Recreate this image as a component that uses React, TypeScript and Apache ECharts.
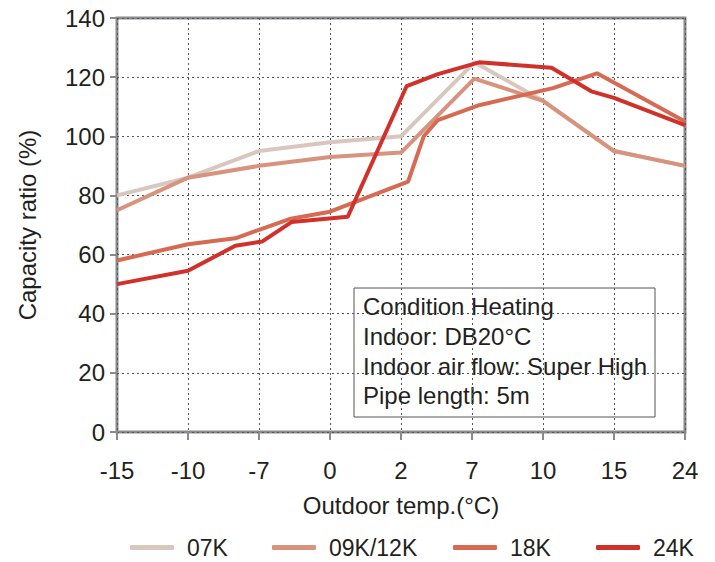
import React, { useEffect, useRef } from "react";
import * as echarts from "echarts";

// X axis: evenly spaced temperature ticks (non-linear scale)
const xTicks = [-15, -10, -7, 0, 2, 7, 10, 15, 24];
const xTickLabels = ["-15", "-10", "-7", "0", "2", "7", "10", "15", "24"];

// Series (outdoor temperature in °C, capacity ratio in %)
const temps07K = [-15, -10, -7, 0, 2, 7.1, 10, 15, 24];
const ratio07K = [80, 86, 95, 98, 100, 125, 112, 95, 90];

const temps09K = [-15, -10, -7, 0, 2, 7.1, 10, 15, 24];
const ratio09K = [75, 86, 90, 93, 94.5, 119.5, 112, 95, 90];

const temps18K = [-15, -10, -8, -4, 0, 2.5, 3.6, 4.6, 7.3, 10.7, 13.8, 24];
const ratio18K = [58, 63.5, 65.5, 72, 74.5, 84.7, 100, 105.5, 110.5, 116.3, 121.3, 105];

const temps24K = [-15, -10, -8, -6.7, -3.8, 0.5, 2.4, 4.6, 7.3, 10.6, 13.4, 15, 24];
const ratio24K = [50, 54.5, 63, 64.4, 71, 72.8, 117, 121, 125, 123.2, 115.2, 113, 103.8];

const seriesNames = ["07K", "09K/12K", "18K", "24K"];
const seriesColors = ["#d9c6be", "#d7937d", "#d76a53", "#d0322b"];

const noteLines = [
  "Condition Heating",
  "Indoor: DB20°C",
  "Indoor air flow: Super High",
  "Pipe length: 5m",
];

const FONT = "'Liberation Sans', Arial, Helvetica, sans-serif";
const TEXT = "#231f20";
const AXIS = "#8a8a8e";

// map a temperature to its position on the evenly spaced tick scale
function toPos(t: number): number {
  for (let i = 0; i < xTicks.length - 1; i++) {
    if (t <= xTicks[i + 1]) {
      return i + (t - xTicks[i]) / (xTicks[i + 1] - xTicks[i]);
    }
  }
  return xTicks.length - 1;
}

export default function App() {
  const ref = useRef<HTMLDivElement>(null);
  useEffect(() => {
    document.body.style.margin = "0";
    if (!ref.current) return;
    const chart = echarts.init(ref.current, undefined, { renderer: "svg" });
    const temps = [temps07K, temps09K, temps18K, temps24K];
    const ratios = [ratio07K, ratio09K, ratio18K, ratio24K];
    const legendLeft = [130, 272, 453, 596];

    chart.setOption({
      animation: false,
      backgroundColor: "#fff",
      textStyle: { fontFamily: FONT },
      grid: {
        left: 117,
        right: 30,
        top: 18,
        bottom: 130,
        show: true,
        borderColor: AXIS,
        borderWidth: 3,
        backgroundColor: "transparent",
      },
      legend: seriesNames.map((n, i) => ({
        data: [n],
        left: legendLeft[i],
        top: 536,
        padding: 0,
        icon: "roundRect",
        itemWidth: 44,
        itemHeight: 5,
        textStyle: {
          fontSize: 23,
          color: TEXT,
          fontFamily: FONT,
          padding: [0, 0, 0, 8],
          lineHeight: 23,
        },
      })),
      xAxis: {
        type: "value",
        min: 0,
        max: xTicks.length - 1,
        interval: 1,
        name: "Outdoor temp.(°C)",
        nameLocation: "middle",
        nameGap: 61,
        nameTextStyle: { fontSize: 24, color: TEXT, fontFamily: FONT },
        axisLine: { show: false },
        axisTick: {
          show: true,
          inside: false,
          length: 8,
          lineStyle: { color: AXIS, width: 2 },
        },
        axisLabel: {
          margin: 26,
          fontSize: 24,
          color: TEXT,
          fontFamily: FONT,
          showMinLabel: true,
          showMaxLabel: true,
          formatter: (v: number) => xTickLabels[Math.round(v)] ?? "",
        },
        splitLine: {
          show: true,
          lineStyle: { color: "#555", width: 1, type: [2, 3] },
        },
      },
      yAxis: {
        type: "value",
        min: 0,
        max: 140,
        interval: 20,
        name: "Capacity ratio (%)",
        nameLocation: "middle",
        nameGap: 78,
        nameTextStyle: { fontSize: 24, color: TEXT, fontFamily: FONT },
        axisLine: { show: false },
        axisTick: {
          show: true,
          inside: false,
          length: 7,
          lineStyle: { color: AXIS, width: 2 },
        },
        axisLabel: {
          margin: 12,
          fontSize: 24,
          color: TEXT,
          fontFamily: FONT,
        },
        splitLine: {
          show: true,
          lineStyle: { color: "#555", width: 1, type: [2, 3] },
        },
      },
      series: seriesNames.map((n, i) => ({
        name: n,
        type: "line",
        symbol: "none",
        showSymbol: false,
        color: seriesColors[i],
        lineStyle: { width: 4, color: seriesColors[i] },
        data: temps[i].map((t, k) => [toPos(t), ratios[i][k]]),
        z: 3 + i,
      })),
      graphic: [
        {
          type: "group",
          z: 100,
          children: [
            {
              type: "rect",
              shape: { x: 354, y: 288, width: 301, height: 129 },
              style: { fill: "#fff", stroke: "#555", lineWidth: 1 },
            },
            {
              type: "text",
              x: 363,
              y: 292,
              style: {
                text: noteLines.join("\n"),
                fontSize: 24,
                fontFamily: FONT,
                lineHeight: 29.7,
                fill: TEXT,
                verticalAlign: "top",
                align: "left",
              },
            },
          ],
        },
      ],
    });
    return () => chart.dispose();
  }, []);
  return <div ref={ref} style={{ width: 715, height: 562 }} />;
}
